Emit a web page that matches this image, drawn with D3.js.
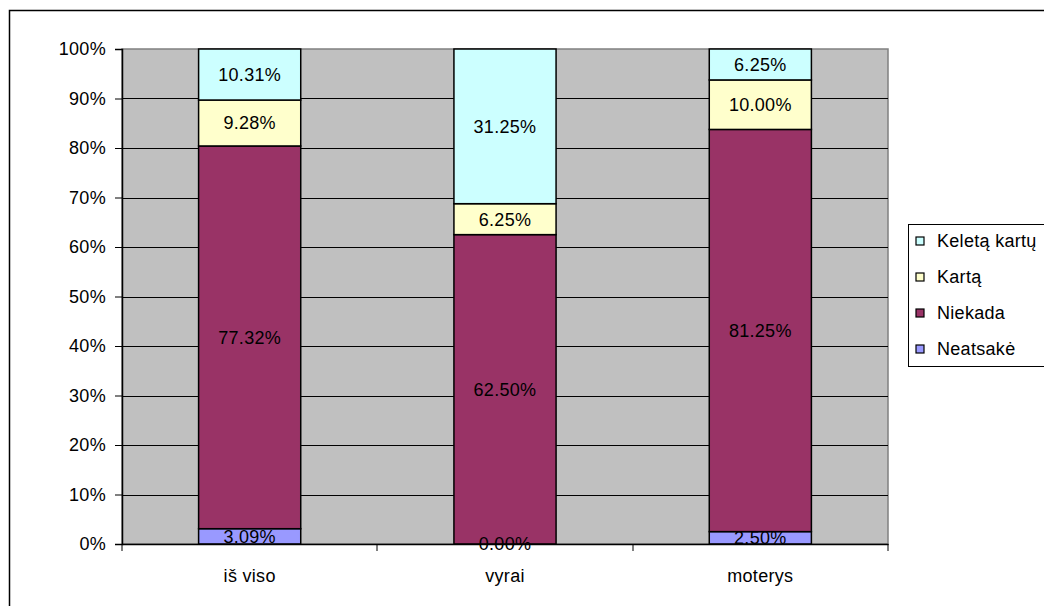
<!DOCTYPE html>
<html>
<head>
<meta charset="utf-8">
<script src="https://cdn.jsdelivr.net/npm/d3@7"></script>
<style>
  body { margin: 0; background: #fff; }
  text { font-family: "Liberation Sans", Arial, sans-serif; fill: #000; letter-spacing: 0.3px; }
</style>
</head>
<body>
<div id="chart"></div>
<script>
// data
var categories = ["iš viso", "vyrai", "moterys"];
var seriesNames = ["Neatsakė", "Niekada", "Kartą", "Keletą kartų"];
var seriesColors = ["#9999ff", "#993366", "#ffffcc", "#ccffff"];
var neatsake = [3.09, 0.00, 2.50];
var niekada = [77.32, 62.50, 81.25];
var karta = [9.28, 6.25, 10.00];
var keletaKartu = [10.31, 31.25, 6.25];
var yTicks = [0, 10, 20, 30, 40, 50, 60, 70, 80, 90, 100];

var W = 1044, H = 606;
var margin = { top: 49, right: 156, bottom: 62, left: 122 };
var width = W - margin.left - margin.right;
var height = H - margin.top - margin.bottom;
var fs = 18;

var svg = d3.select("#chart").append("svg")
    .attr("width", W)
    .attr("height", H);

// outer chart border (runs off the right/bottom edge)
svg.append("rect")
    .attr("x", 9.5).attr("y", 10.5)
    .attr("width", W + 20).attr("height", H + 20)
    .attr("fill", "#fff")
    .attr("stroke", "#000")
    .attr("stroke-width", 1.5);

var g = svg.append("g")
    .attr("transform", "translate(" + margin.left + "," + margin.top + ")");

var x = d3.scaleBand().domain(categories).range([0, width]).paddingInner(0.6).paddingOuter(0.3);
var xCat = d3.scaleBand().domain(categories).range([0, width]);
var y = d3.scaleLinear().domain([0, 100]).range([height, 0]);

// plot area
g.append("rect")
    .attr("width", width).attr("height", height)
    .attr("fill", "#c0c0c0")
    .attr("stroke", "#808080")
    .attr("stroke-width", 1.5);

// gridlines
g.selectAll(".grid").data(yTicks.filter(d => d > 0 && d < 100)).enter().append("line")
    .attr("x1", 0).attr("x2", width)
    .attr("y1", d => Math.round(y(d)) + 0.5).attr("y2", d => Math.round(y(d)) + 0.5)
    .attr("stroke", "#000").attr("stroke-width", 1);

// stacked data
var rows = categories.map((c, i) => ({
    cat: c,
    "Neatsakė": neatsake[i],
    "Niekada": niekada[i],
    "Kartą": karta[i],
    "Keletą kartų": keletaKartu[i]
}));
var stack = d3.stack().keys(seriesNames)(rows);
var color = d3.scaleOrdinal().domain(seriesNames).range(seriesColors);

var layers = g.selectAll(".layer").data(stack).enter().append("g")
    .attr("fill", d => color(d.key));

layers.selectAll("rect").data(d => d).enter().append("rect")
    .attr("x", d => x(d.data.cat))
    .attr("width", x.bandwidth())
    .attr("y", d => y(d[1]))
    .attr("height", d => y(d[0]) - y(d[1]))
    .attr("stroke", "#000")
    .attr("stroke-width", 1.5);

// axes
var yAxis = g.append("g")
    .call(d3.axisLeft(y).tickValues(yTicks).tickSize(7).tickFormat(d => d + "%"));
yAxis.select(".domain").attr("stroke", "#000").attr("stroke-width", 1.5);
yAxis.selectAll(".tick text").attr("font-size", fs).attr("x", -16)
    .style("font-family", "Liberation Sans, Arial, sans-serif");

var xAxis = g.append("g")
    .attr("transform", "translate(0," + height + ")")
    .call(d3.axisBottom(xCat).tickSize(0).tickFormat(""));
xAxis.select(".domain").attr("stroke", "#000").attr("stroke-width", 1.5);
// category boundary ticks
g.selectAll(".xtick").data(categories).enter().append("line")
    .attr("x1", d => Math.round(xCat(d) + xCat.bandwidth())).attr("x2", d => Math.round(xCat(d) + xCat.bandwidth()))
    .attr("y1", height).attr("y2", height + 7)
    .attr("stroke", "#000");
g.append("line").attr("x1", 0).attr("x2", 0).attr("y1", height).attr("y2", height + 7).attr("stroke", "#000");
g.selectAll(".xlabel").data(categories).enter().append("text")
    .attr("x", d => xCat(d) + xCat.bandwidth() / 2)
    .attr("y", height + 38)
    .attr("text-anchor", "middle")
    .attr("font-size", fs)
    .text(d => d);

// value labels (drawn last so the 0.00% label sits on top of the axis)
var labels = g.append("g");
stack.forEach(function(s) {
    labels.selectAll(null).data(s).enter().append("text")
        .attr("x", d => x(d.data.cat) + x.bandwidth() / 2)
        .attr("y", d => y((d[0] + d[1]) / 2))
        .attr("dy", "0.36em")
        .attr("text-anchor", "middle")
        .attr("font-size", fs)
        .text(d => d3.format(".2f")(d.data[s.key]) + "%");
});

// legend
var legend = svg.append("g").attr("transform", "translate(908,224)");
legend.append("rect")
    .attr("x", 0.5).attr("y", 0.5)
    .attr("width", 200).attr("height", 142)
    .attr("fill", "#fff").attr("stroke", "#000").attr("stroke-width", 1);
var legendItems = seriesNames.slice().reverse();
var li = legend.selectAll(".li").data(legendItems).enter().append("g")
    .attr("transform", (d, i) => "translate(8," + (17 + i * 36) + ")");
li.append("rect")
    .attr("x", 0).attr("y", -4).attr("width", 8).attr("height", 8)
    .attr("fill", d => color(d)).attr("stroke", "#000").attr("stroke-width", 1.2);
li.append("text")
    .attr("x", 21).attr("dy", "0.36em")
    .attr("font-size", fs)
    .text(d => d);
</script>
</body>
</html>
